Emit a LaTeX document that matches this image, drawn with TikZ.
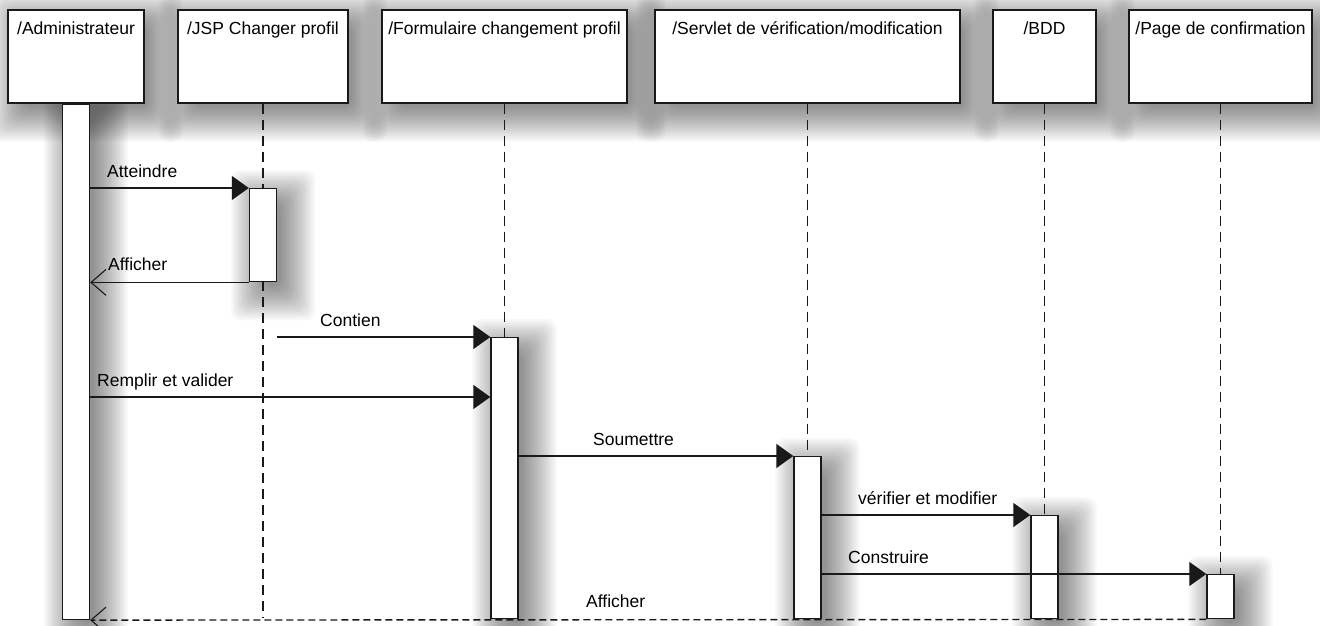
\documentclass[tikz,border=0pt]{standalone}
\usepackage{fontspec}
\setmainfont{Liberation Sans}
\usetikzlibrary{arrows.meta}
\pgfdeclarelayer{paper}
\pgfdeclarelayer{shade}
\pgfsetlayers{paper,shade,main}
% soft drop shadow built from stacked translucent rectangles behind a node
\newcommand\dropshade[1]{%
  \begin{pgfonlayer}{shade}
    \foreach \r in {-6,-4,...,28}{%
      \pgfmathsetmacro\shin{10-\r}%
      \pgfmathsetmacro\shout{10+\r}%
      \fill[black, opacity=0.028, rounded corners=10pt]
        ([shift={(\shin,\shin)}]#1.north west) rectangle
        ([shift={(\shout,\shout)}]#1.south east);
    }
  \end{pgfonlayer}}
\begin{document}
\begin{tikzpicture}[x=1pt,y=-1pt,
  txt/.style={font=\fontsize{17.5}{20}\selectfont, inner sep=0pt},
  actor/.style={draw=black!90, line width=1.4pt, fill=white, minimum height=93pt,
      inner sep=0pt},
  actbar/.style={draw=black!90, line width=1.4pt, fill=white, minimum width=27pt,
      inner sep=0pt, anchor=north},
  life/.style={draw=black!90, line width=1.4pt, dash pattern=on 10pt off 6pt},
  call/.style={draw=black!90, line width=1.4pt, -{Triangle[length=17pt,width=24pt]}},
  reply/.style={draw=black!90, line width=1.4pt,
      -{Straight Barb[length=15pt,width=26pt,line width=1.1pt]}},
  replyd/.style={reply, dash pattern=on 7pt off 4pt},
  msglabel/.style={txt, anchor=base west},
]
\begin{pgfonlayer}{paper}
  \fill[white] (0,0) rectangle (1320,626);
\end{pgfonlayer}
\useasboundingbox (0,0) rectangle (1320,626);

% participants
\node[actor, minimum width=136pt,
  label={[txt, anchor=base, yshift=-25pt]north:/Administrateur}] (adm) at (76,56.5) {};
\node[actor, minimum width=170pt,
  label={[txt, anchor=base, yshift=-25pt]north:/JSP Changer profil}] (jsp) at (263,56.5) {};
\node[actor, minimum width=245pt,
  label={[txt, anchor=base, yshift=-25pt]north:/Formulaire changement profil}] (frm) at (504.5,56.5) {};
\node[actor, minimum width=305pt,
  label={[txt, anchor=base, yshift=-25pt]north:/Servlet de vérification/modification}] (srv) at (807.5,56.5) {};
\node[actor, minimum width=103pt,
  label={[txt, anchor=base, yshift=-25pt]north:/BDD}] (bdd) at (1044.5,56.5) {};
\node[actor, minimum width=183pt,
  label={[txt, anchor=base, yshift=-25pt]north:/Page de confirmation}] (pag) at (1220.5,56.5) {};

% lifelines
\coordinate (bottom) at (0,618);
\draw[life] (jsp.south) -- (jsp.south |- 0,188);
\draw[life] (jsp.south |- 0,281) -- (jsp.south |- bottom);
\draw[life] (frm.south) -- (frm.south |- 0,337);
\draw[life] (srv.south) -- (srv.south |- 0,456);
\draw[life] (bdd.south) -- (bdd.south |- 0,515);
\draw[life] (pag.south) -- (pag.south |- 0,574);

% activation bars
\node[actbar, minimum height=515pt] (admbar) at (adm.south) {};
\node[actbar, minimum height=93pt]  (jspbar) at (jsp.south |- 0,188) {};
\node[actbar, minimum height=281pt] (frmbar) at (frm.south |- 0,337) {};
\node[actbar, minimum height=162pt] (srvbar) at (srv.south |- 0,456) {};
\node[actbar, minimum height=103pt] (bddbar) at (bdd.south |- 0,515) {};
\node[actbar, minimum height=44pt]  (pagbar) at (pag.south |- 0,574) {};

% shadows
\foreach \n in {adm,jsp,frm,srv,bdd,pag,admbar,jspbar,frmbar,srvbar,bddbar,pagbar}{\dropshade{\n}}

% messages
\draw[call] (admbar.east |- jspbar.north west) -- (jspbar.north west);
\node[msglabel] (m1) at (107,177) {Atteindre};

\draw[reply] (jspbar.south west) -- (admbar.east |- jspbar.south west);
\node[msglabel] (m2) at (108,270) {Afficher};

\draw[call] (jspbar.east |- frmbar.north west) -- (frmbar.north west);
\node[msglabel] (m3) at (320,326) {Contien};

\coordinate (y4) at (0,397);
\draw[call] (admbar.east |- y4) -- (frmbar.west |- y4);
\node[msglabel] (m4) at (97,386) {Remplir et valider};

\draw[call] (frmbar.east |- srvbar.north west) -- (srvbar.north west);
\node[msglabel] (m5) at (593,445) {Soumettre};

\draw[call] (srvbar.east |- bddbar.north west) -- (bddbar.north west);
\node[msglabel] (m6) at (858,504) {vérifier et modifier};

\draw[call] (srvbar.east |- pagbar.north west) -- (pagbar.north west);
\node[msglabel] (m7) at (848,563) {Construire};

\draw[replyd] (pagbar.south west) -- (admbar.south east);
\node[msglabel] (m8) at (586,607) {Afficher};
\end{tikzpicture}
\end{document}
